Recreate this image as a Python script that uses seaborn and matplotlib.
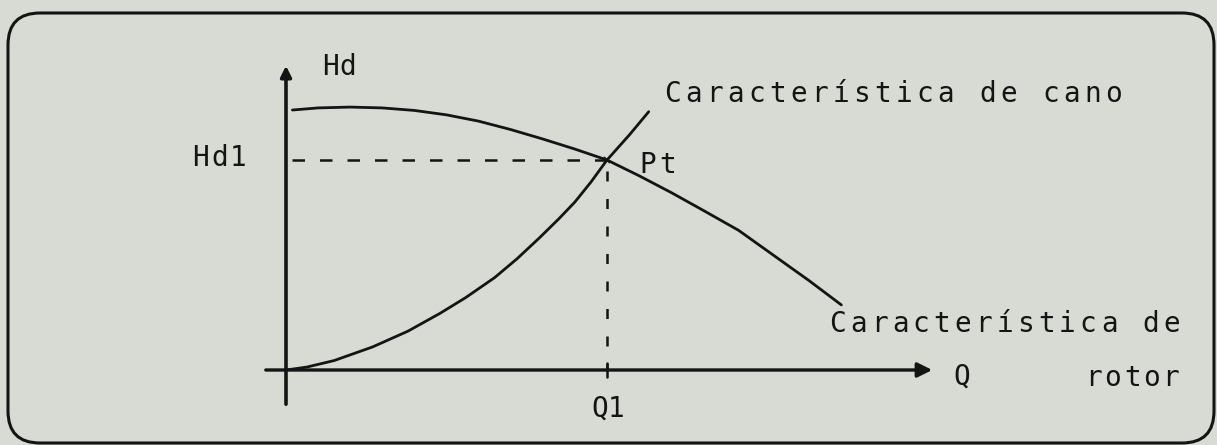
import numpy as np
import pandas as pd
import seaborn as sns
import matplotlib.pyplot as plt
from matplotlib.patches import FancyBboxPatch
from matplotlib.transforms import IdentityTransform

# curves (Q in units of Q1, Hd in units of Hd1)
rotor_q = [0.02, 0.10, 0.20, 0.30, 0.40, 0.50, 0.60, 0.70, 0.80, 0.90, 1.00,
           1.10, 1.20, 1.30, 1.41, 1.52, 1.63, 1.73]
rotor_h = [1.238, 1.248, 1.252, 1.248, 1.236, 1.215, 1.185, 1.145, 1.100, 1.052, 1.00,
           0.925, 0.845, 0.760, 0.665, 0.545, 0.425, 0.31]

cano_q = [0.0, 0.065, 0.15, 0.27, 0.38, 0.48, 0.56, 0.65, 0.72, 0.79, 0.85, 0.90,
          0.95, 1.00, 1.07, 1.13]
cano_h = [0.0, 0.014, 0.045, 0.11, 0.185, 0.27, 0.345, 0.44, 0.53, 0.63, 0.72, 0.80,
          0.895, 1.00, 1.12, 1.23]

q1 = 1.0
hd1 = 1.0

W, H = 1217, 445
X0, Y0 = 286, 370      # origin in pixels
SX, SY = 321, 210      # pixels per unit


def qx(px):
    return (px - X0) / SX


def hy(py):
    return (Y0 - py) / SY


sns.set_theme(style="white")
paper = "#d7dbd4"
ink = "#141414"
font = ["DejaVu Sans Mono"]

fig = plt.figure(figsize=(W / 100, H / 100), dpi=100, facecolor=paper)
ax = fig.add_axes([0, 0, 1, 1])
ax.set_facecolor(paper)
ax.set_xlim(qx(0), qx(W))
ax.set_ylim(hy(H), hy(0))
ax.axis("off")

# rounded frame (pixel coords)
frame = FancyBboxPatch((8, 2), 1206, 430, boxstyle="round,pad=0,rounding_size=32",
                       transform=IdentityTransform(), fill=False, ec=ink, lw=2.2)
fig.patches.append(frame)

# axes with arrows
ax.annotate("", xy=(qx(935), 0), xytext=(qx(263), 0),
            arrowprops=dict(arrowstyle="-|>", color=ink, lw=2.4, mutation_scale=22))
ax.annotate("", xy=(0, hy(63)), xytext=(0, hy(407)),
            arrowprops=dict(arrowstyle="-|>", color=ink, lw=2.6, mutation_scale=16))

# curves
df_rotor = pd.DataFrame({"Q": rotor_q, "Hd": rotor_h})
df_cano = pd.DataFrame({"Q": cano_q, "Hd": cano_h})
sns.lineplot(data=df_rotor, x="Q", y="Hd", sort=False, color=ink, lw=2.0, ax=ax)
sns.lineplot(data=df_cano, x="Q", y="Hd", sort=False, color=ink, lw=2.0, ax=ax)

# operating point guides
ax.plot([0.02, q1], [hd1, hd1], color=ink, lw=1.8, dashes=(5, 6))
ax.plot([q1, q1], [hd1 - 0.05, 0.0], color=ink, lw=1.8, dashes=(4, 7))
ax.plot([q1, q1], [-0.035, 0.035], color=ink, lw=1.8)
ax.plot([q1], [hd1], marker="x", ms=5, mew=1.2, color=ink)


def spaced(px, baseline, s, step, size=20):
    for i, ch in enumerate(s):
        ax.text(qx(px + (i + 0.5) * step), hy(baseline), ch, ha="center", va="baseline",
                fontsize=size, color=ink, family=font)


spaced(322, 75, "Hd", 17)
spaced(191, 166, "Hd1", 19)
spaced(638, 173, "Pt", 20)
spaced(591, 417, "Q1", 17)
spaced(951, 385, "Q", 22)
spaced(662, 102, "Característica de cano", 21)
spaced(827, 332, "Característica de", 20.9)
spaced(1084, 386, "rotor", 19.3)

fig.savefig("out.png", dpi=100, facecolor=paper)
